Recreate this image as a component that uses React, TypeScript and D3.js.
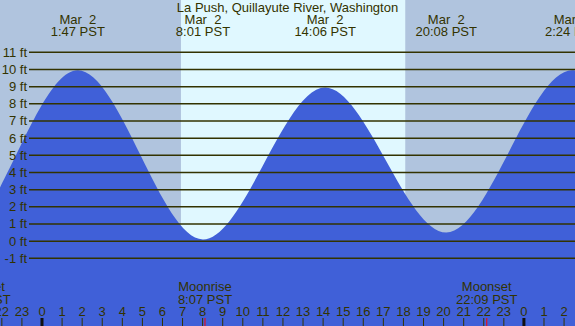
import React from 'react'
import * as d3 from 'd3'

// hours from midnight Mar 2 (PST)
const tideHours = [-10.5, -4.35, 1.783, 8.017, 14.1, 20.133, 26.4, 32.6, 38.8]
const tideFeet = [9.4, 0.1, 9.95, 0.1, 8.95, 0.5, 9.95, 0.6, 9.3]
const tideDays = ['Mar  1', 'Mar  1', 'Mar  2', 'Mar  2', 'Mar  2', 'Mar  2', 'Mar  3', 'Mar  3', 'Mar  3']
const tideClock = ['13:30', '19:39', '1:47', '8:01', '14:06', '20:08', '2:24', '8:36', '14:48']

const sunrise = 6.92
const sunset = 18.09

const moonHours = [-3.09, 8.117, 22.15]
const moonNames = ['Moonset', 'Moonrise', 'Moonset']
const moonClock = ['20:55', '8:07', '22:09']

const feetTicks = [-1, 0, 1, 2, 3, 4, 5, 6, 7, 8, 9, 10, 11]
const hourTicks = d3.range(-2, 27)

const title = 'La Push, Quillayute River, Washington'

const W = 575
const H = 326
const ink = '#333300'
const font = '"Liberation Sans", Arial, sans-serif'

export default function App() {
    const x = d3.scaleLinear().domain([-2.0916, 26.544]).range([0, W])
    const y = d3.scaleLinear().domain([-1, 11]).range([258.3, 52.3])

    const pts = tideHours.map((h, i) => [h, tideFeet[i]] as [number, number])
    const area = d3.area<[number, number]>()
        .x(d => x(d[0]))
        .y0(H)
        .y1(d => y(d[1]))
        .curve(d3.curveMonotoneX)

    const shown = tideHours.map((h, i) => i).filter(i => x(tideHours[i]) > -40 && x(tideHours[i]) < W + 40)
    const pre = { whiteSpace: 'pre' as const }

    return (
        <svg width={W} height={H} style={{ position: 'absolute', left: 0, top: 0 }}
            fontFamily={font} fontSize={13}>
            <rect x={0} y={0} width={W} height={H} fill="#b0c4de" />
            <rect x={x(sunrise)} y={0} width={x(sunset) - x(sunrise)} height={H} fill="#e0f8ff" />
            <path d={area(pts) || ''} fill="#4060d8" />

            {feetTicks.map(f => (
                <g key={f}>
                    <line x1={29} x2={W} y1={y(f)} y2={y(f)} stroke={ink} strokeWidth={1.5} />
                    <text x={27} y={y(f) + 4.5} textAnchor="end" fill={ink}>{f} ft</text>
                </g>
            ))}

            <text x={W / 2} y={12} textAnchor="middle" fill={ink}>{title}</text>
            {shown.map(i => (
                <g key={i} fill={ink} textAnchor="middle">
                    <text x={x(tideHours[i])} y={24} style={pre} xmlSpace="preserve">{tideDays[i]}</text>
                    <text x={x(tideHours[i])} y={36}>{tideClock[i]} PST</text>
                </g>
            ))}

            {hourTicks.map(h => {
                const hh = ((h % 24) + 24) % 24
                return (
                    <g key={h}>
                        <line x1={x(h)} x2={x(h)} y1={318} y2={H} stroke={hh === 0 ? '#111' : ink} strokeWidth={hh === 0 ? 3 : 1} />
                        <text x={x(h)} y={316} textAnchor="middle" fill={ink}>{hh}</text>
                    </g>
                )
            })}

            {moonHours.map((h, i) => (
                <g key={i}>
                    <line x1={x(h)} x2={x(h)} y1={318} y2={H} stroke="#ff0000" strokeWidth={1} />
                    <text x={x(h)} y={291} textAnchor="middle" fill={ink}>{moonNames[i]}</text>
                    <text x={x(h)} y={304} textAnchor="middle" fill={ink}>{moonClock[i]} PST</text>
                </g>
            ))}
        </svg>
    )
}
